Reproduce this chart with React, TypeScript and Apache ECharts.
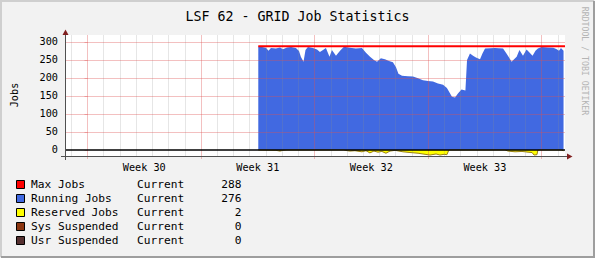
import React, { useEffect, useRef } from "react";
import * as echarts from "echarts";

// time axis: days since the start of Week 30
const weekStarts = [0, 7, 14, 21, 28];
const weekMids = [3.5, 10.5, 17.5, 24.5];
const weekLabels = ["Week 30", "Week 31", "Week 32", "Week 33"];
const dayLines = [-1, 1, 2, 3, 4, 5, 6, 8, 9, 10, 11, 12, 13, 15, 16, 17, 18, 19, 20, 22, 23, 24, 25, 26, 27, 29];
const yTicks = [0, 50, 100, 150, 200, 250, 300];
const yGrid = [50, 100, 150, 200, 250, 300];

const runningT = [10.53, 10.76, 11.0, 11.16, 11.31, 11.62, 11.87, 12.05, 12.3, 12.55, 12.85, 13.04, 13.16, 13.32, 13.44, 13.59, 13.9, 14.15, 14.33, 14.52, 14.7, 14.92, 15.07, 15.32, 15.57, 15.81, 16.18, 16.55, 16.92, 17.17, 17.42, 17.66, 17.85, 18.09, 18.34, 18.59, 18.83, 19.02, 19.17, 19.39, 19.76, 20.07, 20.38, 20.68, 20.99, 21.3, 21.61, 21.92, 22.16, 22.32, 22.47, 22.66, 22.84, 23.06, 23.3, 23.4, 23.58, 23.77, 23.95, 24.2, 24.35, 24.51, 25.12, 25.62, 25.8, 25.96, 26.15, 26.3, 26.46, 26.63, 26.85, 27.07, 27.22, 27.44, 27.62, 27.77, 27.99, 28.39, 28.72, 28.93, 29.07, 29.19, 29.35];
const runningV = [288, 286, 284, 276, 283, 282, 285, 280, 285, 286, 283, 275, 258, 245, 278, 286, 283, 279, 272, 278, 283, 259, 278, 262, 276, 287, 284, 282, 283, 270, 259, 250, 245, 255, 252, 247, 244, 230, 212, 206, 205, 204, 199, 194, 192, 190, 185, 181, 172, 160, 148, 146, 157, 168, 165, 250, 268, 262, 257, 252, 268, 282, 283, 282, 270, 259, 245, 252, 259, 278, 262, 279, 272, 262, 276, 282, 286, 285, 284, 280, 276, 283, 276];

const maxT = [10.53, 29.44];
const maxV = [288, 288];

const reservedT = [10.53, 11.62, 11.87, 12.05, 12.3, 15.81, 15.88, 16.18, 16.49, 16.92, 17.17, 17.41, 17.66, 17.91, 18.15, 18.4, 18.65, 18.96, 19.45, 19.88, 20.38, 20.81, 21.12, 21.49, 21.73, 21.98, 22.16, 22.28, 25.74, 25.93, 26.36, 26.79, 27.16, 27.41, 27.53, 27.71, 27.77, 29.2, 29.35];
const reservedV = [0, 1, 3, 1, 0, 0, 1, 3, 2, 5, 2, 8, 3, 6, 4, 9, 3, 1, 5, 7, 9, 12, 14, 11, 14, 12, 13, 0, 0, 3, 5, 4, 6, 7, 14, 13, 0, 0, 2];

const sysT = [10.53, 11.8, 11.87, 11.95, 16.2, 16.3, 16.8, 16.9, 29.35];
const sysV = [0, 0, 2, 0, 0, 1.5, 1, 0, 0];

const usrT = [10.53, 29.35];
const usrV = [0, 0];

const legendNames = ["Max Jobs", "Running Jobs", "Reserved Jobs", "Sys Suspended", "Usr Suspended"];
const legendColors = ["#ff0000", "#4169e1", "#ffff00", "#8b3510", "#553030"];
const currentValues = [maxV[maxV.length - 1], runningV[runningV.length - 1], reservedV[reservedV.length - 1], sysV[sysV.length - 1], usrV[usrV.length - 1]];

const X_MIN = -1.387;
const X_MAX = 29.44;
const Y_MIN = -16.67;
const Y_MAX = 319.44;

const FONT = "'DejaVu Sans Mono', monospace";
const MINOR = "rgba(143,143,143,0.22)";
const MAJOR = "rgba(222,79,79,0.36)";

function pairs(t: number[], v: number[], sign = 1) {
  return t.map((x, i) => [x, sign * v[i]]);
}

export default function App() {
  const ref = useRef<HTMLDivElement>(null);
  useEffect(() => {
    if (!ref.current) return;
    const chart = echarts.init(ref.current, undefined, { renderer: "svg" });

    const gridLines: any[] = [
      ...dayLines.map((d) => ({ xAxis: d, lineStyle: { color: MINOR, width: 1, type: "solid" } })),
      ...weekStarts.map((d) => ({ xAxis: d, lineStyle: { color: MAJOR, width: 1, type: "solid" } })),
      ...yGrid.map((v) => ({ yAxis: v, lineStyle: { color: MAJOR, width: 1, type: "solid" } })),
    ];

    const legendGraphics: any[] = [];
    legendNames.forEach((name, i) => {
      const cy = 184.5 + i * 14;
      legendGraphics.push({
        type: "rect",
        shape: { x: 16.5, y: cy - 4, width: 8, height: 8 },
        style: { fill: legendColors[i], stroke: "#000", lineWidth: 1 },
      });
      legendGraphics.push({
        type: "text",
        x: 31,
        y: cy,
        style: { text: name, font: `11.2px ${FONT}`, fill: "#000", align: "left", verticalAlign: "middle", textAlign: "left", textVerticalAlign: "middle" },
      });
      legendGraphics.push({
        type: "text",
        x: 137,
        y: cy,
        style: { text: "Current", font: `11.2px ${FONT}`, fill: "#000", align: "left", verticalAlign: "middle", textAlign: "left", textVerticalAlign: "middle" },
      });
      legendGraphics.push({
        type: "text",
        x: 241.5,
        y: cy,
        style: { text: String(currentValues[i]), font: `11.2px ${FONT}`, fill: "#000", align: "right", verticalAlign: "middle", textAlign: "right", textVerticalAlign: "middle" },
      });
    });

    const option: any = {
      animation: false,
      backgroundColor: "#f2f2f2",
      textStyle: { fontFamily: FONT },
      title: {
        text: "LSF 62 - GRID Job Statistics",
        left: "center",
        top: 10,
        padding: 0,
        textStyle: { fontFamily: FONT, fontSize: 13.3, fontWeight: "normal", color: "#000" },
      },
      grid: { left: 65, top: 35, width: 500, height: 121, show: true, backgroundColor: "#ffffff", borderWidth: 0 },
      xAxis: {
        type: "value",
        min: X_MIN,
        max: X_MAX,
        axisLine: { show: false, onZero: false },
        axisTick: { show: true, customValues: weekStarts, length: 3, lineStyle: { color: MAJOR } },
        axisLabel: {
          show: true,
          customValues: weekMids,
          formatter: (v: number) => weekLabels[Math.round((v - 3.5) / 7)] ?? "",
          margin: 6,
          fontSize: 10.2,
          fontFamily: FONT,
          color: "#000",
        },
        splitLine: { show: false },
      },
      yAxis: {
        type: "value",
        min: Y_MIN,
        max: Y_MAX,
        axisLine: { show: false },
        axisTick: { show: true, customValues: yTicks, length: 3, lineStyle: { color: MAJOR } },
        axisLabel: { show: true, customValues: yTicks, margin: 7, fontSize: 10.2, fontFamily: FONT, color: "#000" },
        splitLine: { show: false },
      },
      series: [
        {
          name: "Running Jobs",
          type: "line",
          data: pairs(runningT, runningV),
          symbol: "none",
          lineStyle: { width: 0 },
          areaStyle: { color: "#4169e1", opacity: 1 },
          z: 2,
        },
        {
          name: "Reserved Jobs",
          type: "line",
          data: pairs(reservedT, reservedV, -1),
          symbol: "none",
          lineStyle: { width: 1, color: "#9a8010" },
          areaStyle: { color: "#ffff00", opacity: 1 },
          z: 2,
        },
        {
          name: "Sys Suspended",
          type: "line",
          data: pairs(sysT, sysV, -1),
          symbol: "none",
          lineStyle: { width: 0 },
          areaStyle: { color: "#8b3510", opacity: 1 },
          z: 2,
        },
        {
          name: "Usr Suspended",
          type: "line",
          data: pairs(usrT, usrV, -1),
          symbol: "none",
          lineStyle: { width: 0 },
          z: 2,
        },
        {
          name: "grid",
          type: "line",
          data: [],
          silent: true,
          z: 3,
          markLine: { silent: true, symbol: ["none", "none"], label: { show: false }, animation: false, data: gridLines },
        },
        {
          name: "zero",
          type: "line",
          data: [],
          silent: true,
          z: 4,
          markLine: {
            silent: true,
            symbol: ["none", "none"],
            label: { show: false },
            animation: false,
            data: [{ yAxis: 0, lineStyle: { color: "#000", width: 1.5, type: "solid" } }],
          },
        },
        {
          name: "Max Jobs",
          type: "line",
          data: pairs(maxT, maxV),
          symbol: "none",
          lineStyle: { width: 2, color: "#ff0000" },
          z: 5,
        },
      ],
      graphic: [
        // frame
        { type: "polyline", shape: { points: [[1, 257], [1, 1], [594, 1]] }, style: { stroke: "#cfcfcf", lineWidth: 2, fill: null } },
        { type: "polyline", shape: { points: [[1, 257], [594, 257], [594, 1]] }, style: { stroke: "#9e9e9e", lineWidth: 2, fill: null } },
        // axes
        { type: "line", shape: { x1: 61, y1: 156.5, x2: 568, y2: 156.5 }, style: { stroke: "#505050", lineWidth: 1 }, z: 10 },
        { type: "line", shape: { x1: 65.5, y1: 160, x2: 65.5, y2: 34 }, style: { stroke: "#505050", lineWidth: 1 }, z: 10 },
        { type: "polygon", shape: { points: [[567, 153.5], [572.5, 156.5], [567, 159.5]] }, style: { fill: "#801f1f" }, z: 10 },
        { type: "polygon", shape: { points: [[62.5, 35], [65.5, 29.5], [68.5, 35]] }, style: { fill: "#801f1f" }, z: 10 },
        // unit label
        {
          type: "text",
          x: 14,
          y: 95,
          rotation: Math.PI / 2,
          style: { text: "Jobs", font: `10.2px ${FONT}`, fill: "#000", align: "center", verticalAlign: "middle", textAlign: "center", textVerticalAlign: "middle" },
        },
        // watermark
        {
          type: "text",
          x: 584.5,
          y: 61,
          rotation: -Math.PI / 2,
          style: { text: "RRDTOOL / TOBI OETIKER", font: `8.2px ${FONT}`, fill: "#b4b4b4", align: "center", verticalAlign: "middle", textAlign: "center", textVerticalAlign: "middle" },
        },
        ...legendGraphics,
      ],
    };

    chart.setOption(option);
    return () => chart.dispose();
  }, []);

  return <div ref={ref} style={{ position: "fixed", left: 0, top: 0, width: 595, height: 258 }} />;
}
